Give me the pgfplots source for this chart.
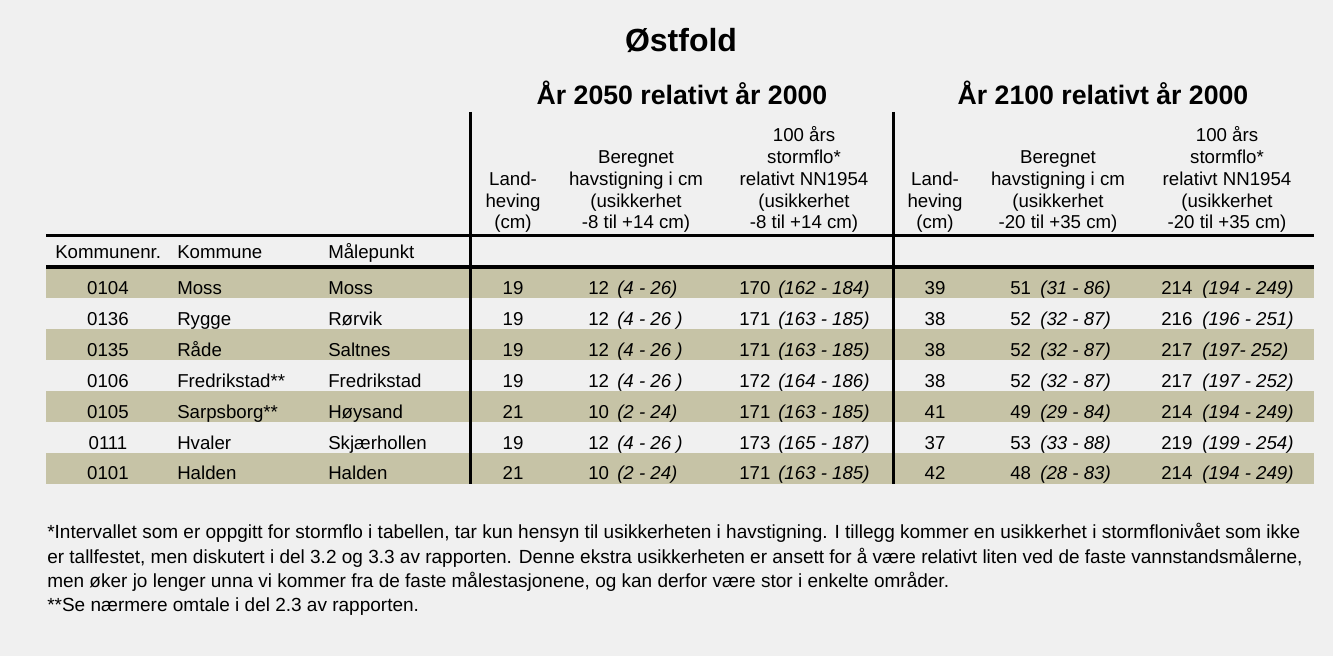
\documentclass[border=0pt]{standalone}
\usepackage{pgfplots}
\usepackage{pgfplotstable}
\pgfplotsset{compat=1.18}
\usepackage{fontspec}
\setmainfont{Liberation Sans}

\definecolor{bg}{HTML}{F0F0F0}
\definecolor{stripe}{HTML}{C6C3A6}

% rows: baseline y (px from top), then the cells
\pgfplotstableread[col sep=comma]{
y,knr,kom,pkt,lh1,hs1,hr1,sf1,sr1,lh2,hs2,hr2,sf2,sr2
294,0104,Moss,Moss,19,12,(4 - 26),170,(162 - 184),39,51,(31 - 86),214,(194 - 249)
325,0136,Rygge,Rørvik,19,12,(4 - 26 ),171,(163 - 185),38,52,(32 - 87),216,(196 - 251)
356,0135,Råde,Saltnes,19,12,(4 - 26 ),171,(163 - 185),38,52,(32 - 87),217,(197- 252)
387,0106,Fredrikstad**,Fredrikstad,19,12,(4 - 26 ),172,(164 - 186),38,52,(32 - 87),217,(197 - 252)
418,0105,Sarpsborg**,Høysand,21,10,(2 - 24),171,(163 - 185),41,49,(29 - 84),214,(194 - 249)
449,0111,Hvaler,Skjærhollen,19,12,(4 - 26 ),173,(165 - 187),37,53,(33 - 88),219,(199 - 254)
479,0101,Halden,Halden,21,10,(2 - 24),171,(163 - 185),42,48,(28 - 83),214,(194 - 249)
}\rows

\newcommand\body{\fontsize{14}{16}\selectfont}
\newcommand\notefont{\fontsize{14.25}{16}\selectfont}
\newcommand\hl[3]{\node[anchor=base,inner sep=0pt,font=\body] at (axis cs:#1,#2) {#3};}
\newcommand\hw[3]{\node[anchor=base west,inner sep=0pt,font=\body] at (axis cs:#1,#2) {#3};}
\newcommand\nt[2]{\node[anchor=base west,inner sep=0pt,font=\notefont] at (axis cs:47,#1) {#2};}

\pgfplotsset{
  cell/.style={only marks, mark=*, mark size=0pt, mark options={draw=none,fill=none},
    color=black, point meta=explicit symbolic, nodes near coords,
    every node near coord/.append style={inner sep=0pt, font=\body, anchor=#1}},
  it/.style={every node near coord/.append style={font=\body\itshape}},
  rule/.style={draw=black, line width=#1, mark=none},
}

\begin{document}
\begin{tikzpicture}
\begin{axis}[
  scale only axis, width=999.75pt, height=492pt,
  xmin=0, xmax=1333, ymin=0, ymax=656, y dir=reverse,
  enlargelimits=false, axis lines=none, ticks=none,
]
\fill[bg] (axis cs:0,0) rectangle (axis cs:1333,656);

% stripes
\addplot[draw=none, fill=stripe, mark=none] coordinates {(46,267) (1314,267) (1314,298) (46,298)} -- cycle;
\addplot[draw=none, fill=stripe, mark=none] coordinates {(46,329) (1314,329) (1314,360) (46,360)} -- cycle;
\addplot[draw=none, fill=stripe, mark=none] coordinates {(46,391) (1314,391) (1314,422) (46,422)} -- cycle;
\addplot[draw=none, fill=stripe, mark=none] coordinates {(46,453) (1314,453) (1314,484) (46,484)} -- cycle;

% rules
\addplot[rule=2.6pt] coordinates {(46,235.5) (1314,235.5)};
\addplot[rule=3pt] coordinates {(46,266.5) (1314,266.5)};
\addplot[rule=2.3pt] coordinates {(470.5,112) (470.5,484)};
\addplot[rule=2.3pt] coordinates {(893.5,112) (893.5,484)};

% titles
\node[anchor=base,inner sep=0pt,font=\fontsize{24}{28}\selectfont\bfseries] at (axis cs:681,52) {Østfold};
\node[anchor=base,inner sep=0pt,font=\fontsize{20}{24}\selectfont\bfseries] at (axis cs:682,105) {År 2050 relativt år 2000};
\node[anchor=base,inner sep=0pt,font=\fontsize{20}{24}\selectfont\bfseries] at (axis cs:1103,105) {År 2100 relativt år 2000};

% column heads
\hl{513}{185}{Land-}\hl{513}{207}{heving}\hl{513}{228}{(cm)}
\hl{636}{163}{Beregnet}\hl{636}{185}{havstigning i cm}\hl{636}{207}{(usikkerhet}\hl{636}{228}{-8 til +14 cm)}
\hl{804}{142}{100 års}\hl{804}{163}{stormflo*}\hl{804}{185}{relativt NN1954}\hl{804}{207}{(usikkerhet}\hl{804}{228}{-8 til +14 cm)}
\hl{935}{185}{Land-}\hl{935}{207}{heving}\hl{935}{228}{(cm)}
\hl{1058}{163}{Beregnet}\hl{1058}{185}{havstigning i cm}\hl{1058}{207}{(usikkerhet}\hl{1058}{228}{-20 til +35 cm)}
\hl{1227}{142}{100 års}\hl{1227}{163}{stormflo*}\hl{1227}{185}{relativt NN1954}\hl{1227}{207}{(usikkerhet}\hl{1227}{228}{-20 til +35 cm)}
\hw{55}{258}{Kommunenr.}\hw{177}{258}{Kommune}\hw{328}{258}{Målepunkt}

% cells
\addplot[cell=base] table[x expr=108, y=y, meta=knr] {\rows};
\addplot[cell=base west] table[x expr=177, y=y, meta=kom] {\rows};
\addplot[cell=base west] table[x expr=328, y=y, meta=pkt] {\rows};
\addplot[cell=base] table[x expr=513, y=y, meta=lh1] {\rows};
\addplot[cell=base west] table[x expr=588, y=y, meta=hs1] {\rows};
\addplot[cell=base west, it] table[x expr=617, y=y, meta=hr1] {\rows};
\addplot[cell=base west] table[x expr=739, y=y, meta=sf1] {\rows};
\addplot[cell=base west, it] table[x expr=778, y=y, meta=sr1] {\rows};
\addplot[cell=base] table[x expr=935, y=y, meta=lh2] {\rows};
\addplot[cell=base west] table[x expr=1010, y=y, meta=hs2] {\rows};
\addplot[cell=base west, it] table[x expr=1040, y=y, meta=hr2] {\rows};
\addplot[cell=base west] table[x expr=1161, y=y, meta=sf2] {\rows};
\addplot[cell=base west, it] table[x expr=1202, y=y, meta=sr2] {\rows};

% notes
\nt{538}{*Intervallet som er oppgitt for stormflo i tabellen, tar kun hensyn til usikkerheten i havstigning. I tillegg kommer en usikkerhet i stormflonivået som ikke}
\nt{563}{er tallfestet, men diskutert i del 3.2 og 3.3 av rapporten. Denne ekstra usikkerheten er ansett for å være relativt liten ved de faste vannstandsmålerne,}
\nt{587}{men øker jo lenger unna vi kommer fra de faste målestasjonene, og kan derfor være stor i enkelte områder.}
\nt{611}{**Se nærmere omtale i del 2.3 av rapporten.}
\end{axis}
\end{tikzpicture}
\end{document}
